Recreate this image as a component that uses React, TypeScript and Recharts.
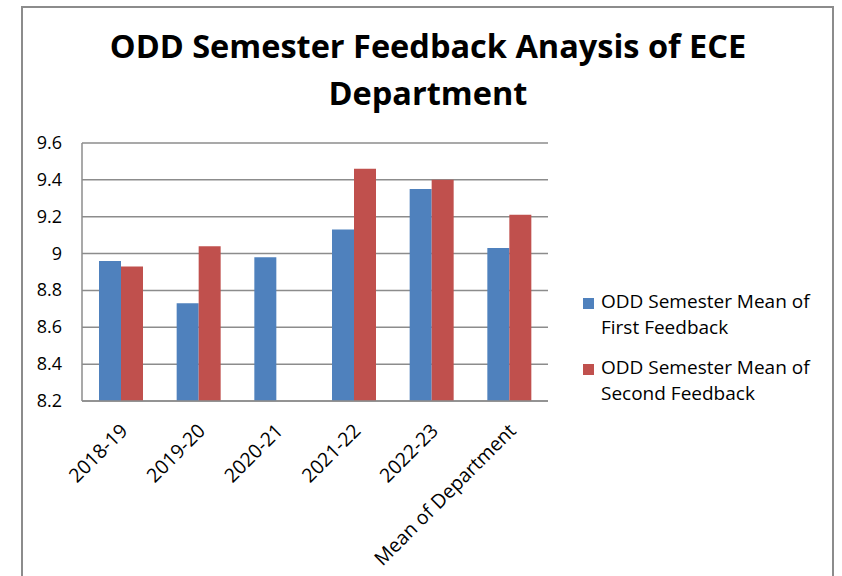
import React from 'react';
import { BarChart, Bar, XAxis, YAxis, CartesianGrid } from 'recharts';

const categories = ['2018-19', '2019-20', '2020-21', '2021-22', '2022-23', 'Mean of Department'];
const firstFeedback = [8.96, 8.73, 8.98, 9.13, 9.35, 9.03];
const secondFeedback: (number | null)[] = [8.93, 9.04, null, 9.46, 9.4, 9.21];
const yTicks = [8.2, 8.4, 8.6, 8.8, 9.0, 9.2, 9.4, 9.6];
const legendLines = [
  ['ODD Semester Mean of', 'First Feedback'],
  ['ODD Semester Mean of', 'Second Feedback'],
];
const titleLines = ['ODD Semester Feedback Anaysis of ECE', 'Department'];

const data = categories.map((c, i) => ({
  name: c,
  first: firstFeedback[i],
  second: secondFeedback[i],
}));

const FONT = '"Open Sans", "Noto Sans", sans-serif';
const BLUE = '#4F81BD';
const RED = '#C0504D';
const GRID = '#8c8c8c';
const COLORS = [BLUE, RED];

const XTick = (props: any) => {
  const { x, y, payload } = props;
  const ax = x + 8;
  const ay = y + 23;
  return (
    <text
      x={ax}
      y={ay}
      textAnchor="end"
      fontSize={19.5}
      fontFamily={FONT}
      fill="#000"
      transform={`rotate(-45, ${ax}, ${ay})`}
    >
      {payload.value}
    </text>
  );
};

const YTick = (props: any) => {
  const { y, payload } = props;
  const v = Number(Number(payload.value).toFixed(1));
  return (
    <text x={62} y={y} dy={6} textAnchor="end" fontSize={18} fontFamily={FONT} fill="#000">
      {String(v)}
    </text>
  );
};

export default function App() {
  return (
    <div style={{ position: 'absolute', left: 0, top: 0, width: 842, height: 576, overflow: 'hidden', background: '#fff' }}>
      <div
        style={{
          position: 'absolute',
          left: 21,
          top: 6,
          width: 813,
          height: 620,
          border: `2px solid ${GRID}`,
          boxSizing: 'border-box',
        }}
      />
      <div
        style={{
          position: 'absolute',
          left: 0,
          top: 22,
          width: 856,
          textAlign: 'center',
          fontFamily: FONT,
          fontWeight: 700,
          fontSize: 32.5,
          lineHeight: '47px',
          color: '#000',
          whiteSpace: 'nowrap',
        }}
      >
        {titleLines.map((l, i) => (
          <div key={i}>{l}</div>
        ))}
      </div>
      <div style={{ position: 'absolute', left: 0, top: 0 }}>
        <BarChart
          width={842}
          height={576}
          data={data}
          margin={{ top: 143, right: 294, bottom: 75, left: 22 }}
          barSize={22}
          barGap={0}
        >
          <CartesianGrid vertical={false} stroke={GRID} strokeWidth={1.5} />
          <XAxis
            dataKey="name"
            interval={0}
            tickLine={false}
            axisLine={{ stroke: GRID, strokeWidth: 1.5 }}
            tick={<XTick />}
            height={100}
          />
          <YAxis
            domain={[8.2, 9.6]}
            ticks={yTicks}
            allowDataOverflow
            tickLine={false}
            axisLine={{ stroke: GRID, strokeWidth: 1.5 }}
            tick={<YTick />}
            width={60}
          />
          <Bar dataKey="first" name="ODD Semester Mean of First Feedback" fill={BLUE} isAnimationActive={false} />
          <Bar dataKey="second" name="ODD Semester Mean of Second Feedback" fill={RED} isAnimationActive={false} />
        </BarChart>
      </div>
      {legendLines.map((lines, i) => (
        <div
          key={i}
          style={{
            position: 'absolute',
            left: 583,
            top: 288 + i * 66,
            fontFamily: FONT,
            fontSize: 19,
            color: '#000',
          }}
        >
          <div
            style={{
              position: 'absolute',
              left: 0,
              top: 10,
              width: 11,
              height: 11,
              background: COLORS[i],
            }}
          />
          {lines.map((l, j) => (
            <div key={j} style={{ marginLeft: 18, lineHeight: '26px', whiteSpace: 'nowrap' }}>
              {l}
            </div>
          ))}
        </div>
      ))}
    </div>
  );
}
